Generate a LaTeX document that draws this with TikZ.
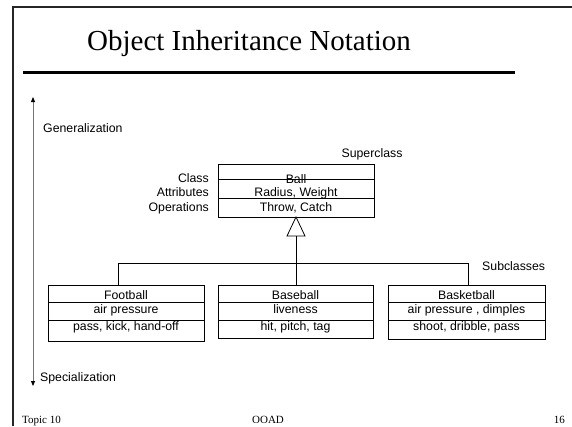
\documentclass[tikz,border=0pt]{standalone}
\usepackage{fontspec}
\setmainfont{Liberation Serif}
\newfontfamily\diagfont{Liberation Sans}
\usetikzlibrary{arrows.meta}

\begin{document}
\begin{tikzpicture}[x=1pt,y=-1pt,
  lbl/.style={font=\diagfont\fontsize{12.3}{14}\selectfont, inner sep=0pt, anchor=base},
  classbox/.style={draw, line width=0.8pt, inner sep=0pt, outer sep=0pt, anchor=north west},
  divider/.style={line width=0.8pt},
  foot/.style={font=\fontsize{11}{13}\selectfont, inner sep=0pt, anchor=base}]
\useasboundingbox (0,0) rectangle (572,426);

% slide frame
\draw[line width=2pt, black!85] (13,426) -- (13,7) -- (572,7);

% title and rule
\node[font=\fontsize{29}{34}\selectfont, inner sep=0pt, anchor=base] (title) at (249,50) {Object Inheritance Notation};
\coordinate (ruleL) at (23,72.5);
\coordinate (ruleR) at (515,72.5);
\draw[line width=3.3pt] (ruleL) -- (ruleR);

% generalization / specialization axis
\coordinate (gtop) at (33,97);
\coordinate (gbot) at (33,386);
\draw[line width=0.8pt, black!55, {Triangle[length=5pt,width=4pt,color=black]}-{Triangle[length=5pt,width=4pt,color=black]}] (gtop) -- (gbot);
\node[lbl, anchor=base west] (gen) at (43,132) {Generalization};
\node[lbl, anchor=base west] (spec) at (40,381) {Specialization};

% superclass
\node[lbl] (super) at (372,157) {Superclass};
\node[classbox, minimum width=156pt, minimum height=53pt] (ball) at (218,164) {};
\draw[divider] (218,179) -- (374,179);
\draw[divider] (218,198) -- (374,198);
\node[lbl] (ballname) at (296,183) {Ball};
\node[lbl] (ballattr) at (296,196) {Radius, Weight};
\node[lbl] (ballops) at (296,211) {Throw, Catch};

\node[lbl, anchor=base east] (lclass) at (209,182) {Class};
\node[lbl, anchor=base east] (lattr) at (209,196) {Attributes};
\node[lbl, anchor=base east] (lops) at (209,211) {Operations};

% subclasses
\node[lbl, anchor=base west] (sub) at (482,270) {Subclasses};

\node[classbox, minimum width=156pt, minimum height=56pt] (football) at (48,285) {};
\draw[divider] (48,302) -- (204,302);
\draw[divider] (48,320) -- (204,320);
\node[lbl] (fbname) at (126,299) {Football};
\node[lbl] (fbattr) at (126,313) {air pressure};
\node[lbl] (fbops) at (126,330) {pass, kick, hand-off};

\node[classbox, minimum width=155pt, minimum height=53pt] (baseball) at (218,285) {};
\draw[divider] (218,302) -- (373,302);
\draw[divider] (218,320) -- (373,320);
\node[lbl] (bbname) at (295.5,299) {Baseball};
\node[lbl] (bbattr) at (295.5,313) {liveness};
\node[lbl] (bbops) at (295.5,330) {hit, pitch, tag};

\node[classbox, minimum width=157pt, minimum height=54pt] (basketball) at (388,285) {};
\draw[divider] (388,302) -- (545,302);
\draw[divider] (388,320) -- (545,320);
\node[lbl] (bkname) at (466.5,299) {Basketball};
\node[lbl] (bkattr) at (466.5,313) {air pressure , dimples};
\node[lbl] (bkops) at (466.5,330) {shoot, dribble, pass};

% inheritance connectors
\coordinate (triL) at (287,236);
\coordinate (triR) at (305,236);
\coordinate (stem) at (296,236);
\draw[line width=0.8pt, fill=white] (ball.south) -- (triL) -- (triR) -- cycle;
\draw[line width=0.8pt] (stem) -- (baseball.north -| stem);
\coordinate (busL) at (118,263);
\coordinate (busR) at (468,263);
\draw[line width=0.8pt] (football.north -| busL) -- (busL) -- (busR) -- (basketball.north -| busR);

% footer
\node[foot, anchor=base west] (ftopic) at (22,423) {Topic 10};
\node[foot] (fcourse) at (268,423) {OOAD};
\node[foot, anchor=base east] (fpage) at (565,423) {16};
\end{tikzpicture}
\end{document}
